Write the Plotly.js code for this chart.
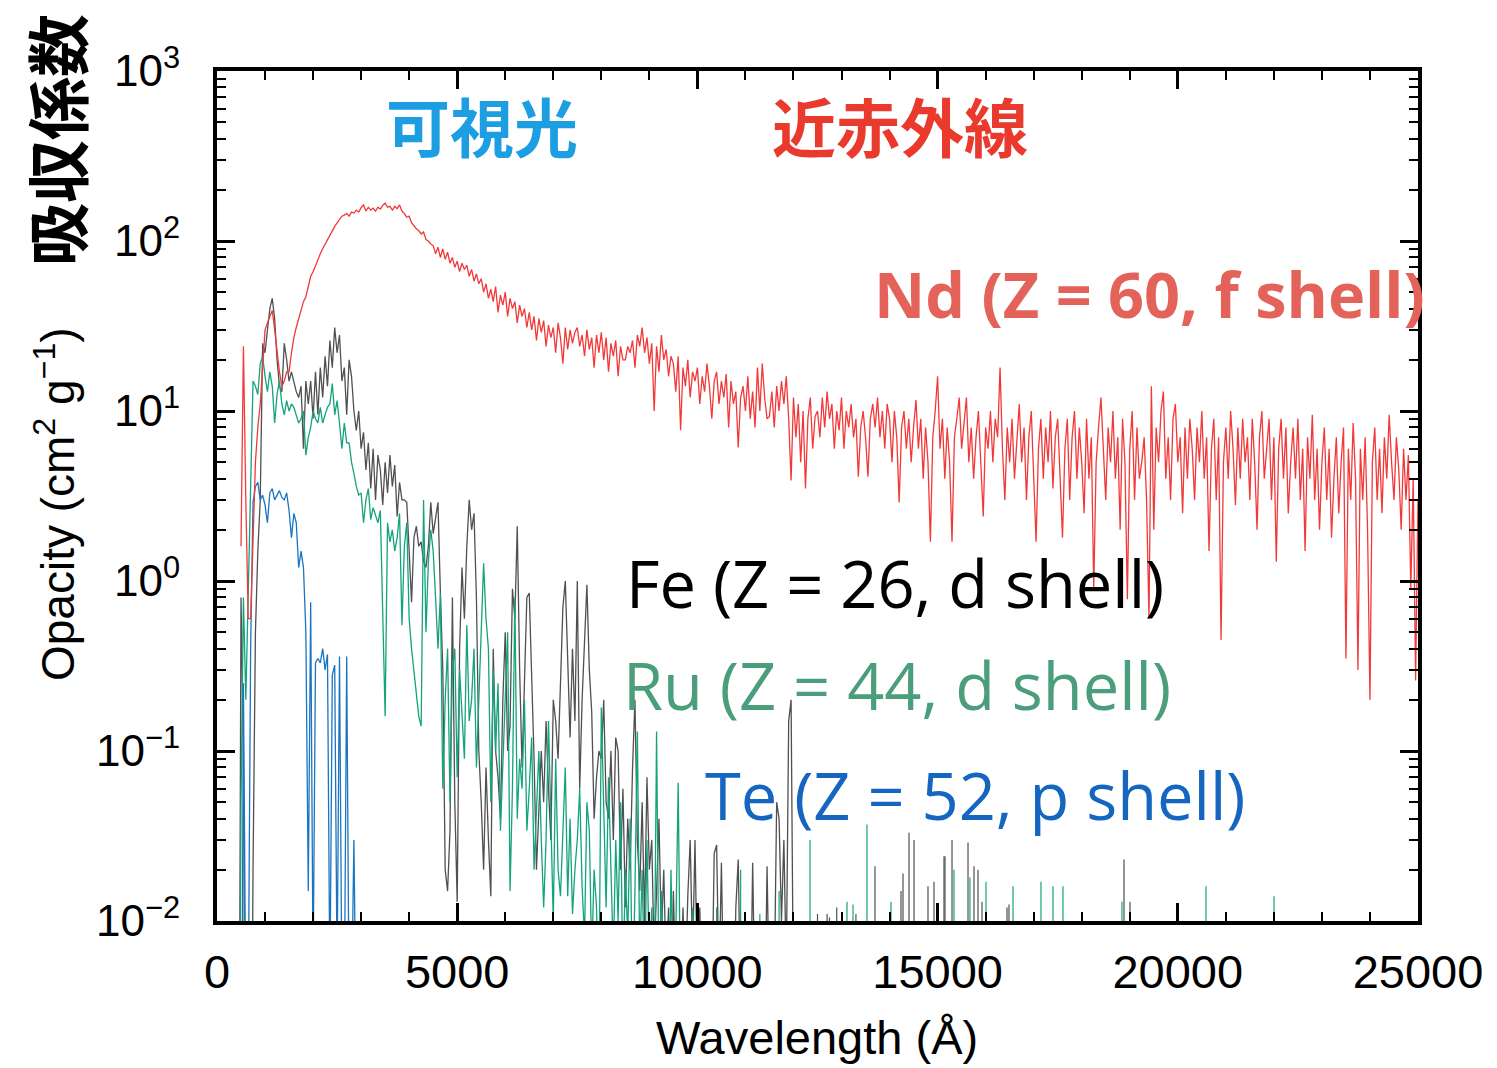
<!DOCTYPE html>
<html>
<head>
<meta charset="utf-8">
<script src="https://cdn.plot.ly/plotly-3.0.1.min.js"></script>
<style>html,body{margin:0;padding:0;background:#fff;}#chart{width:1497px;height:1068px;}</style>
</head>
<body>
<div id="chart"></div>
<script>
// Wavelength grid of the sampled spectra (Angstrom)
const ndStart = 500, feStart = 400, ruStart = 400, teStart = 400, step = 50;

// Nd (Z = 60, f shell) opacity, cm^2/g, every 50 A from 500 A
const ndOpacity = [
  1.6, 24, 3, 0.6, 0.6, 1.8, 5, 8, 11, 18, 30, 33, 36, 39, 30, 22, 17, 14, 15, 17,
  17, 22, 27, 31, 35, 40, 44, 47, 55, 62, 66, 72, 78, 84, 90, 96, 101, 108, 115, 122,
  128, 134, 140, 142, 145, 140, 148, 146, 152, 148, 157, 163, 150, 158, 152, 156, 150, 158, 154, 162,
  167, 158, 160, 152, 160, 155, 163, 150, 145, 138, 140, 128, 122, 118, 115, 110, 113, 102, 100, 96,
  94, 84, 92, 80, 90, 78, 86, 74, 80, 70, 76, 66, 74, 68, 72, 62, 68, 58, 64, 56,
  60, 50, 56, 46, 52, 44, 54, 38, 48, 42, 50, 36, 46, 40, 44, 33, 42, 36, 40, 31,
  38, 30, 36, 26, 35, 29, 34, 24, 32, 27, 31, 22, 33, 27, 19, 31, 23, 30, 25, 29,
  31, 24, 28, 21, 30, 23, 27, 18, 28, 22, 29, 20, 27, 17, 25, 21, 26, 16, 24, 20,
  20, 24, 22, 26, 18, 28, 24, 31, 22, 27, 19, 25, 10, 24, 17, 28, 20, 23, 16, 21,
  19, 13, 21, 7.7, 18, 14, 20, 12, 17, 15, 18, 11, 16, 13, 19, 14, 9, 15, 17, 11,
  15, 12, 16.5, 8, 15, 11, 13, 6.1, 12, 14, 10, 16, 9, 13, 8, 18, 10, 19, 12, 9,
  9.3, 13, 8, 14, 10, 15, 11, 16, 9, 3.9, 12, 7, 11, 5, 10, 3.5, 9, 12, 6, 9.3,
  10, 7, 12, 8, 13, 9, 11, 6, 10, 7.7, 12, 6, 10, 8, 11, 7, 9, 4.1, 8, 10,
  7, 4.1, 9, 11, 8, 12, 7, 10, 6, 11, 9, 5, 10, 7, 2.9, 8, 10, 6, 9, 5,
  8, 11.6, 6, 9, 4, 8, 5, 1.7, 7, 10, 16, 6, 9, 4, 8, 5, 1.7, 7, 9, 12,
  6, 9, 12, 5, 8, 4, 7, 10, 5, 2.4, 8, 6, 10, 5, 9, 7, 18, 6, 3, 8,
  5, 9, 4, 7, 11, 5, 8, 3, 7, 10, 4, 1.7, 6, 9, 4, 8, 5, 10, 3.5, 7,
  9, 4, 1.8, 6, 9, 3, 7, 10, 4, 8, 5, 2.5, 9, 4, 7, 0.9, 5, 8, 12, 6,
  3, 8, 5, 10, 4, 7, 2, 9, 5, 0.78, 6, 10, 3, 8, 4, 5, 7, 3, 0.6, 14,
  2, 8, 5, 10, 13, 4, 7, 3, 9, 11, 5, 7, 2.5, 8, 4, 9, 6, 3, 8, 5,
  10, 4, 7, 1.5, 6, 9, 3, 7, 0.45, 5, 8, 4, 10, 6, 2.8, 8, 4, 9, 5, 7,
  3, 9, 5, 2, 7, 10, 4, 6, 9, 3, 7, 1.3, 6, 9, 4, 8, 2.5, 5, 8, 4,
  9, 3, 6, 1.5, 7, 4, 9.5, 3, 6, 2, 5, 8, 3, 6, 1.8, 4, 7, 2.5, 5, 8,
  0.35, 6, 3, 8.5, 4, 0.3, 6, 3, 7, 2, 0.2, 5, 8, 3, 6, 2.5, 7, 4, 9.5, 5,
  3, 7, 4.5, 2, 6, 3, 5.5, 0.9, 4, 0.26, 3
];

// Fe (Z = 26, d shell), every 50 A from 400 A
const feOpacity = [
  1e-4, 1e-4, 0.8, 0.1, 1e-4, 1e-4, 1e-4, 0.02, 0.5, 1.5, 3, 25, 22, 30, 40, 46, 35, 20, 14, 13,
  25, 20, 15, 17, 15, 13, 12, 14, 6, 15, 11, 15, 9, 17, 9.5, 18, 12, 21, 14, 26,
  18, 31, 22, 28, 15, 18, 9.5, 20, 16, 10, 7.7, 10, 6, 7.5, 4.5, 6.5, 3.5, 6, 3, 5.5,
  4.5, 2.8, 5, 3.3, 5.5, 3.6, 4.8, 2.4, 3.8, 3.0, 3.0, 2.9, 1.5, 0.75, 1.8, 2.1, 1.6, 1.7, 1.3, 1.2,
  1.6, 2.9, 1.9, 2.4, 2.9, 0.85, 0.3, 0.02, 0.015, 0.034, 0.8, 0.05, 0.013, 0.4, 1.2, 0.6, 1.6, 3.0, 2.0, 2.5,
  0.8, 0.1, 0.05, 0.02, 0.08, 0.03, 0.014, 0.4, 0.1, 0.07, 0.04, 0.2, 0.5, 0.1, 0.14, 0.9, 0.6, 2.1, 0.3, 0.08,
  0.3, 0.8, 0.85, 0.3, 0.09, 0.02, 0.05, 0.1, 0.05, 0.15, 0.06, 0.03, 0.2, 0.15, 0.09, 0.3, 0.7, 1.0, 0.3, 0.12,
  0.4, 0.15, 1.0, 0.06, 0.2, 0.4, 0.95, 0.3, 0.17, 0.04, 0.07, 0.1, 0.09, 0.2, 0.05, 0.04, 0.1, 0.03, 0.12, 0.1,
  0.02, 0.06, 0.012, 0.04, 0.02, 0.08, 0.2, 0.03, 0.015, 0.05, 0.01, 0.07, 0.02, 0.03, 0.006, 0.015, 0.04, 0.008, 0.02, 0.005,
  0.012, 0.003, 0.015, 0.004, 0.01, 0.003, 0.012, 0.004, 0.014, 0.03, 0.006, 0.03, 0.004, 0.012, 0.003, 0.009, 0.002, 0.008, 0.003, 0.025,
  0.028, 0.004, 0.022, 0.003, 0.01, 0.002, 0.006, 0.002, 0.012, 0.023, 0.003, 0.008, 0.002, 0.005, 0.002, 0.022, 0.003, 0.006, 0.002, 0.008,
  0.002, 0.021, 0.003, 0.01, 0.004, 0.05, 0.04, 0.01, 0.03, 0.005, 0.15, 0.2, 0.003, 0.006, 0.001
];
// Fe isolated lines at long wavelengths
const feLineWave = [12500, 12700, 12750, 12900, 13300, 13697, 14238, 14280, 14405, 14509, 14800, 14925, 15133, 15154, 15300, 15633, 15758, 15841, 15924, 16445, 16486, 18880, 19005];
const feLineOpacity = [0.011, 0.011, 0.0105, 0.012, 0.011, 0.021, 0.015, 0.019, 0.033, 0.03, 0.016, 0.017, 0.024, 0.024, 0.03, 0.029, 0.021, 0.02, 0.013, 0.012, 0.0125, 0.023, 0.013];

// Ru (Z = 44, d shell), every 50 A from 400 A
const ruOpacity = [
  1e-4, 1e-4, 0.05, 0.8, 0.2, 0.85, 4.5, 15, 14, 12.5, 19, 21, 16, 13, 17, 14, 8.5, 12.5, 15, 11,
  9.5, 11.5, 10, 11, 10.5, 9.5, 8.5, 9, 10, 5.5, 7, 8, 10, 9, 8.5, 10.5, 8.5, 9.5, 10.5, 11,
  14.5, 9.5, 11.5, 8.5, 6, 8.5, 6.5, 6.5, 5.0, 4.3, 3.6, 3.2, 3.3, 2.2, 3.0, 3.5, 2.3, 2.7, 2.4, 2.2,
  2.6, 0.6, 0.16, 2.2, 1.7, 2.0, 1.5, 1.8, 2.5, 0.55, 1.6, 2.2, 0.6, 0.4, 0.3, 0.23, 0.16, 0.14, 3.0, 0.5,
  1.3, 2.0, 1.5, 0.8, 0.4, 0.85, 0.06, 0.2, 0.4, 0.05, 0.3, 0.4, 0.07, 0.3, 0.15, 0.09, 0.55, 0.15, 0.2, 0.4,
  0.08, 0.2, 0.5, 1.27, 0.6, 0.4, 0.05, 0.3, 0.1, 0.25, 0.034, 0.09, 0.22, 0.5, 0.015, 0.06, 0.8, 0.04, 0.09, 0.06,
  0.2, 0.034, 0.06, 0.12, 0.02, 0.05, 0.1, 0.03, 0.012, 0.03, 0.15, 0.04, 0.01, 0.09, 0.02, 0.014, 0.034, 0.08, 0.014, 0.04,
  0.011, 0.02, 0.03, 0.06, 0.016, 0.008, 0.05, 0.034, 0.006, 0.02, 0.012, 0.003, 0.18, 0.05, 0.012, 0.07, 0.02, 0.006, 0.03, 0.01,
  0.05, 0.004, 0.02, 0.008, 0.04, 0.003, 0.015, 0.13, 0.006, 0.02, 0.004, 0.03, 0.005, 0.012, 0.003, 0.13, 0.004, 0.015, 0.003, 0.01,
  0.002, 0.02, 0.003, 0.008, 0.065, 0.003, 0.01, 0.002, 0.006, 0.002, 0.012, 0.003, 0.002
];
// Ru isolated lines at long wavelengths
const ruLineWave = [10400, 10900, 11300, 11700, 12344, 13114, 13239, 13530, 14030, 15341, 15674, 16007, 16570, 17152, 17402, 17610, 18838, 20587, 22003];
const ruLineOpacity = [0.012, 0.02, 0.011, 0.015, 0.03, 0.013, 0.0125, 0.037, 0.013, 0.02, 0.018, 0.017, 0.016, 0.017, 0.016, 0.016, 0.013, 0.016, 0.014];

// Te (Z = 52, p shell), every 50 A from 400 A
const teOpacity = [
  1e-4, 1e-4, 1e-4, 0.25, 0.003, 0.003, 0.4, 2.9, 3.6, 3.8, 3.0, 3.2, 2.8, 2.2, 3.3, 3.5, 3.0, 3.2, 3.4, 3.1,
  3.0, 3.3, 2.6, 1.8, 2.5, 2.2, 1.2, 1.5, 1.2, 0.5, 0.015, 0.75, 0.005, 0.33, 0.35, 0.33, 0.4, 0.3, 0.37, 0.004,
  0.28, 0.32, 0.005, 0.36, 0.004, 0.003, 0.36, 0.003, 0.003, 0.03, 0.002, 1e-4
];

// Axis ticks
const xTickVals = [0, 5000, 10000, 15000, 20000, 25000];
const xTickText = ['0', '5000', '10000', '15000', '20000', '25000'];
const yTickVals = [0.01, 0.1, 1, 10, 100, 1000];
const yTickText = ['10<sup>−2</sup>', '10<sup>−1</sup>', '10<sup>0</sup>', '10<sup>1</sup>', '10<sup>2</sup>', '10<sup>3</sup>'];

const C_ND = '#f2393a', C_FE = '#505050', C_RU = '#14a37c', C_TE = '#1a74c2';
const LW = 1.3;

const traces = [
  {type: 'scatter', mode: 'lines', x0: feStart, dx: step, y: feOpacity, line: {color: C_FE, width: LW}},
  {type: 'bar', x: feLineWave, y: feLineOpacity, width: 25, marker: {color: C_FE, line: {width: 0}}},
  {type: 'scatter', mode: 'lines', x0: ruStart, dx: step, y: ruOpacity, line: {color: C_RU, width: LW}},
  {type: 'bar', x: ruLineWave, y: ruLineOpacity, width: 25, marker: {color: C_RU, line: {width: 0}}},
  {type: 'scatter', mode: 'lines', x0: teStart, dx: step, y: teOpacity, line: {color: C_TE, width: LW}},
  {type: 'scatter', mode: 'lines', x0: ndStart, dx: step, y: ndOpacity, line: {color: C_ND, width: LW}}
];

const L = 217, R = 1418, T = 71, B = 921;
const px = v => (v - L) / (R - L);
const py = v => (B - v) / (B - T);

const annotations = [
  {text: '<b>可視光</b>', x: px(482), y: py(124), font: {family: 'Noto Sans CJK JP', size: 64, color: '#1e9ee2'}},
  {text: '<b>近赤外線</b>', x: px(900), y: py(124), font: {family: 'Noto Sans CJK JP', size: 64, color: '#ea3a2e'}},
  {text: '<b>Nd (Z = 60, f shell)</b>', x: px(872), y: py(293), xanchor: 'left', font: {family: 'Open Sans', size: 63, color: '#e3625a'}},
  {text: 'Fe (Z = 26, d shell)', x: px(624), y: py(583), xanchor: 'left', font: {family: 'Open Sans', size: 65, color: '#000000'}},
  {text: 'Ru (Z = 44, d shell)', x: px(621), y: py(685), xanchor: 'left', font: {family: 'Open Sans', size: 65, color: '#4b9e7b'}},
  {text: 'Te (Z = 52, p shell)', x: px(703), y: py(795), xanchor: 'left', font: {family: 'Open Sans', size: 65, color: '#1466c0'}},
  {text: 'Wavelength (Å)', x: px(817), y: py(1066), yanchor: 'bottom', font: {family: 'Liberation Sans', size: 47, color: '#000'}},
  {text: 'Opacity (cm<sup>2</sup> g<sup>−1</sup>)', x: px(55), y: py(504), textangle: -90, font: {family: 'Liberation Sans', size: 46, color: '#000'}},
  {text: '<b>吸収係数</b>', x: px(54), y: py(140), textangle: -90, font: {family: 'Noto Sans CJK JP', size: 63, color: '#000'}}
].map(a => Object.assign({xref: 'paper', yref: 'paper', showarrow: false, xanchor: 'center', yanchor: 'middle'}, a));

const layout = {
  width: 1497, height: 1068,
  margin: {l: L, r: 1497 - R, t: T, b: 1068 - B, pad: 0},
  paper_bgcolor: '#fff', plot_bgcolor: '#fff',
  showlegend: false, barmode: 'overlay',
  xaxis: {
    range: [0, 25000], tickvals: xTickVals, ticktext: xTickText,
    ticks: 'inside', ticklen: 18, tickwidth: 3, tickcolor: '#000',
    showline: true, linewidth: 4, linecolor: '#000', mirror: 'allticks',
    showgrid: false, zeroline: false, ticklabelstandoff: 7,
    tickfont: {family: 'Liberation Sans', size: 47, color: '#000'},
    minor: {dtick: 1000, ticks: 'inside', ticklen: 9, tickwidth: 2, tickcolor: '#000', showgrid: false}
  },
  yaxis: {
    type: 'log', range: [-2, 3], tickvals: yTickVals, ticktext: yTickText,
    ticks: 'inside', ticklen: 18, tickwidth: 3, tickcolor: '#000',
    showline: true, linewidth: 4, linecolor: '#000', mirror: 'allticks',
    showgrid: false, zeroline: false, ticklabelstandoff: 24,
    tickfont: {family: 'Liberation Sans', size: 44, color: '#000'},
    minor: {dtick: 'D1', ticks: 'inside', ticklen: 9, tickwidth: 2, tickcolor: '#000', showgrid: false}
  },
  annotations: annotations
};

Plotly.newPlot('chart', traces, layout, {displayModeBar: false, staticPlot: true});
</script>
</body>
</html>
